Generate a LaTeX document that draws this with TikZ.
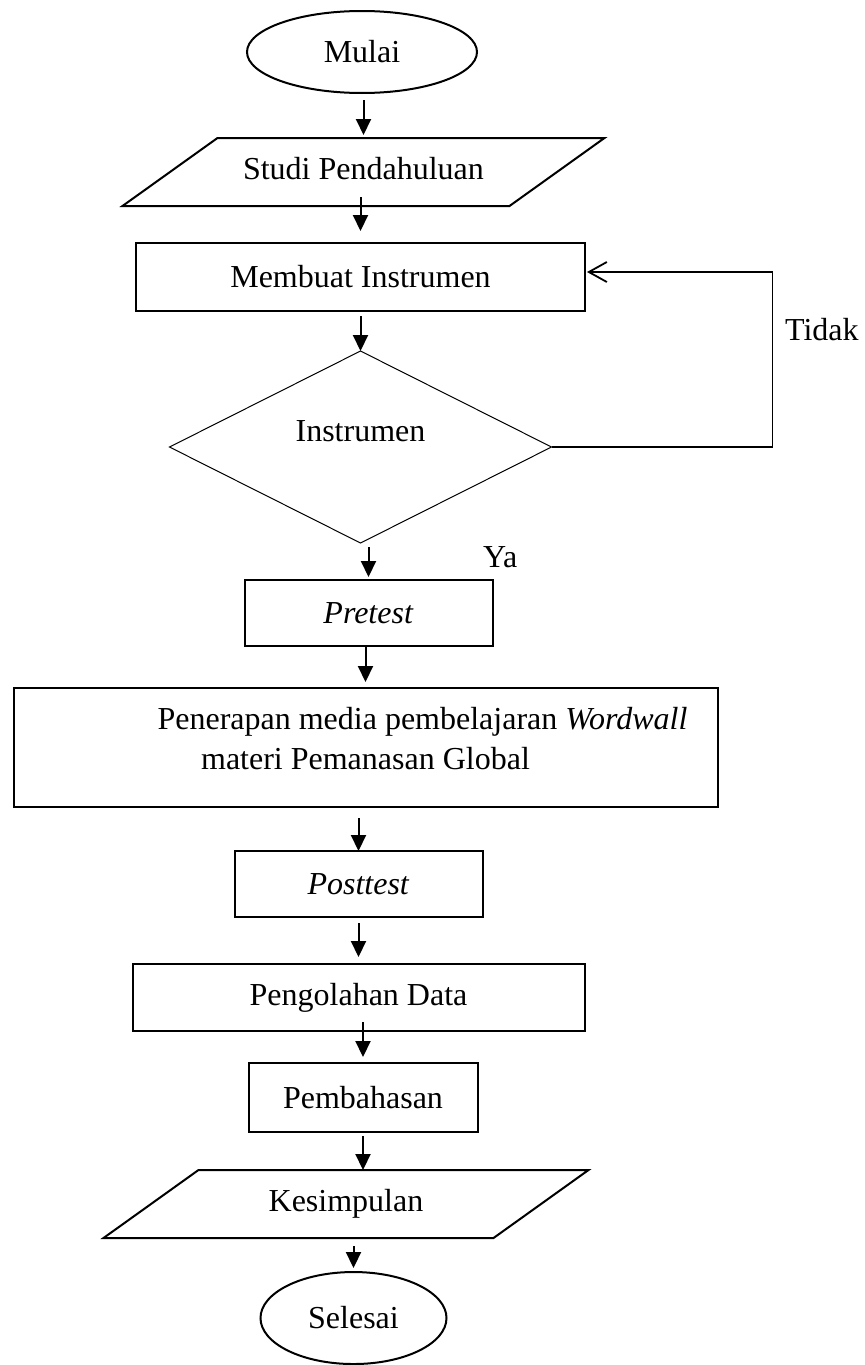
\documentclass[tikz,border=0pt]{standalone}
\usepackage{fontspec}
\setmainfont{Liberation Serif}
\usetikzlibrary{shapes.geometric, arrows.meta, positioning}

\begin{document}
\begin{tikzpicture}[
    x=1pt, y=1pt,
    font=\fontsize{16pt}{20pt}\selectfont,
    terminal/.style={ellipse, draw, line width=1pt, outer sep=0pt, inner sep=0pt},
    io/.style={trapezium, trapezium left angle=35.6, trapezium right angle=144.4, trapezium stretches body, draw, line width=1pt, outer sep=0pt, inner ysep=0pt, text height=20.5pt, text depth=13.5pt},
    process/.style={rectangle, draw, line width=1pt, outer sep=0pt, align=center},
    decision/.style={diamond, draw, line width=0.5pt, outer sep=0pt, aspect=2, inner sep=0pt},
    arrow/.style={line width=1pt, -{Triangle[length=8pt, width=7.5pt]}},
    back/.style={line width=0.9pt, -{Straight Barb[length=9pt, width=10pt]}}
]

\useasboundingbox (0,0) rectangle (432,-682.5);

% Nodes
\node (mulai) [terminal, minimum width=115pt, minimum height=41pt] at (181,-26) {Mulai};
\node (studi) [io, minimum width=241pt, below=22.5pt of mulai, xshift=0.75pt] {Studi Pendahuluan};
\node (membuat) [process, minimum width=224.5pt, minimum height=34pt, below=18.5pt of studi, xshift=-1.5pt] {Membuat Instrumen};
\node (instrumen) [decision, minimum width=191pt, minimum height=96pt, text height=11pt, text depth=17pt, below=20pt of membuat] {Instrumen};
\node (pretest) [process, minimum width=124pt, minimum height=33pt, below=18.5pt of instrumen, xshift=4pt] {\textit{Pretest}};
\node (penerapan) [process, minimum width=352pt, minimum height=59.5pt, text depth=9.5pt, below=21pt of pretest, xshift=-1.5pt] {\hspace*{57pt}Penerapan media pembelajaran \textit{Wordwall}\\materi Pemanasan Global};
\node (posttest) [process, minimum width=124pt, minimum height=33pt, below=22pt of penerapan, xshift=-3.5pt] {\textit{Posttest}};
\node (pengolahan) [process, minimum width=226pt, minimum height=33.5pt, below=23.5pt of posttest] {Pengolahan Data};
\node (pembahasan) [process, minimum width=114.5pt, minimum height=34.5pt, below=16pt of pengolahan, xshift=2.25pt] {Pembahasan};
\node (kesimpulan) [io, minimum width=242.5pt, below=19pt of pembahasan, xshift=-8.5pt] {Kesimpulan};
\node (selesai) [terminal, minimum width=93pt, minimum height=46pt, below=17pt of kesimpulan, xshift=3.75pt] {Selesai};

% Connections
\draw [arrow, shorten <=3.5pt, shorten >=1.5pt] (studi.north |- mulai.south) -- (studi.north);
\draw [arrow, shorten <=-4.5pt, shorten >=6pt] (membuat.north |- studi.south) -- (membuat.north);
\draw [arrow, shorten <=2.5pt] (instrumen.north |- membuat.south) -- (instrumen.north);
\draw [arrow, shorten <=2pt, shorten >=1.5pt] (pretest.north |- instrumen.south) -- node[pos=0.38, right=53.5pt] (ya) {Ya} (pretest.north);
\draw [arrow, shorten <=0.5pt, shorten >=3pt] (penerapan.north |- pretest.south) -- (penerapan.north);
\draw [arrow, shorten <=5.5pt] (posttest.north |- penerapan.south) -- (posttest.north);
\draw [arrow, shorten <=3pt, shorten >=3.5pt] (pengolahan.north |- posttest.south) -- (pengolahan.north);
\draw [arrow, shorten <=-4.5pt, shorten >=3pt] (pembahasan.north |- pengolahan.south) -- (pembahasan.north);
\draw [arrow, shorten <=2pt] (pembahasan.south) -- (pembahasan.south |- kesimpulan.north);
\draw [arrow, shorten <=4pt, shorten >=2pt] (selesai.north |- kesimpulan.south) -- (selesai.north);
\draw [back, shorten >=1pt] (instrumen.east) -- ++(110.5,0) |- node[pos=0.335, right=2.5pt] (tidak) {Tidak} ([yshift=2.5pt]membuat.east);

\end{tikzpicture}
\end{document}
